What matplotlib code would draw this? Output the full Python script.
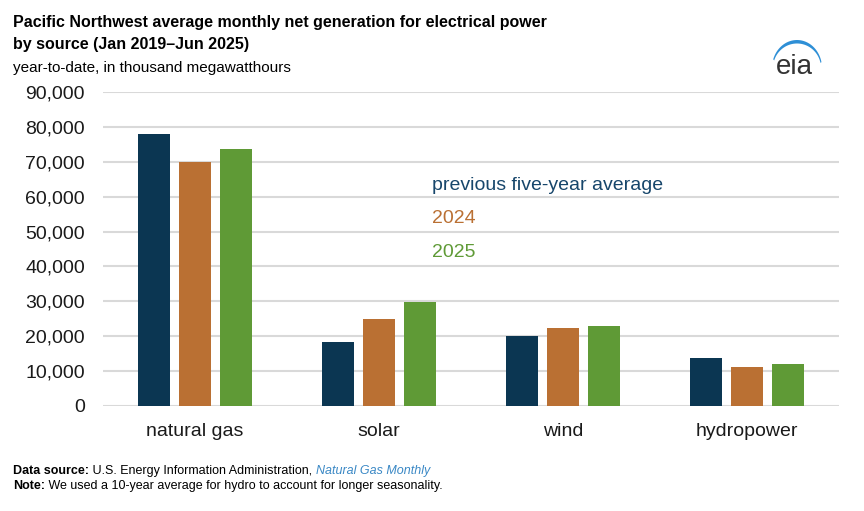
"""
plot.py

Pacific Northwest average monthly net generation by source, grouped bars.
"""

import matplotlib.pyplot as plt
import numpy as np
from matplotlib.patches import Polygon

# --- data ---
categories = ["natural gas", "solar", "wind", "hydropower"]
series_names = ["previous five-year average", "2024", "2025"]
prev_avg = [78100, 18300, 20000, 13900]
y2024 = [69900, 24800, 22400, 11300]
y2025 = [73600, 29800, 22900, 12100]
yticks = [0, 10000, 20000, 30000, 40000, 50000, 60000, 70000, 80000, 90000]

colors = ["#0b3652", "#ba7033", "#5f9a36"]
text_colors = ["#17466b", "#ba7033", "#5f9a36"]

plt.rcParams['font.family'] = ['Liberation Sans', 'DejaVu Sans']

fig = plt.figure(figsize=(8.64, 5.11), dpi=100)
ax = fig.add_axes([103 / 864, 1 - 406 / 511, 736 / 864, 314 / 511])

x = np.arange(len(categories))
width = 0.174
step = 0.223
for i, vals in enumerate([prev_avg, y2024, y2025]):
    ax.bar(x + (i - 1) * step, vals, width, color=colors[i], zorder=3)

ax.set_xlim(-0.5, len(categories) - 0.5)
ax.set_ylim(0, 90000)
ax.set_yticks(yticks)
ax.set_yticklabels([f"{v:,}" for v in yticks])
ax.set_xticks(x)
ax.set_xticklabels(categories)
ax.grid(axis='y', color='#d9d9d9', linewidth=1.5, zorder=0)
ax.set_axisbelow(True)
for s in ax.spines.values():
    s.set_visible(False)
ax.tick_params(axis='y', length=0, pad=13, labelsize=14, labelcolor='#1a1a1a')
ax.tick_params(axis='x', length=0, pad=12, labelsize=14, labelcolor='#1a1a1a')

# inline legend
for i, name in enumerate(series_names):
    fig.text(432 / 864, 1 - (185 + i * 33.6) / 511, name, color=text_colors[i],
             fontsize=14, va='center', ha='left')

# titles
fig.text(13 / 864, 1 - 22 / 511, "Pacific Northwest average monthly net generation for electrical power",
         fontsize=11.5, fontweight='bold', va='center', ha='left')
fig.text(13 / 864, 1 - 45 / 511, "by source (Jan 2019\u2013Jun 2025)",
         fontsize=11.5, fontweight='bold', va='center', ha='left')
fig.text(13 / 864, 1 - 68 / 511, "year-to-date, in thousand megawatthours",
         fontsize=11, va='center', ha='left')

# footer, pieces chained one after another
t1 = fig.text(13 / 864, 1 - 474 / 511, "Data source:", fontsize=9, fontweight='bold', va='baseline')
t2 = ax.annotate(" U.S. Energy Information Administration, ", xy=(1, 0), xycoords=t1,
                 fontsize=9, va='bottom', annotation_clip=False)
ax.annotate("Natural Gas Monthly", xy=(1, 0), xycoords=t2, fontsize=9, style='italic',
            color='#3a88c5', va='bottom', annotation_clip=False)
n1 = fig.text(13 / 864, 1 - 489 / 511, "Note:", fontsize=9, fontweight='bold', va='baseline')
ax.annotate(" We used a 10-year average for hydro to account for longer seasonality.",
            xy=(1, 0), xycoords=n1, fontsize=9, va='bottom', annotation_clip=False)

# eia logo
logo = fig.add_axes([765 / 864, 1 - 82 / 511, 65 / 864, 50 / 511])
logo.set_xlim(765, 830)
logo.set_ylim(82, 32)
logo.axis('off')
th = np.linspace(np.radians(12), np.radians(162), 60)
outer = np.column_stack([797 + 25 * np.cos(th), 68 - 28 * np.sin(th)])
inner = np.column_stack([797 + 24 * np.cos(th[::-1]), 68 - 24.5 * np.sin(th[::-1])])
logo.add_patch(Polygon(np.vstack([outer, inner]), closed=True, color='#2e8fd6', lw=0))
logo.text(794, 67, "eia", fontsize=20, color='#333333', ha='center', va='center')

fig.savefig("out.png", dpi=100)
